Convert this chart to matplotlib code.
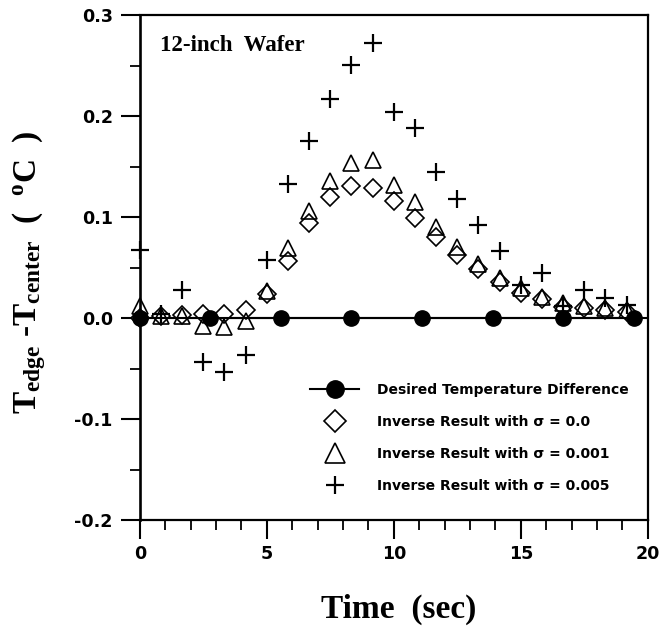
import matplotlib
matplotlib.use('Agg')
import matplotlib.pyplot as plt
import numpy as np

plt.rcParams['figure.figsize'] = [6.63, 6.26]
plt.rcParams['figure.dpi'] = 100
plt.rcParams['savefig.dpi'] = 100
plt.rcParams['mathtext.fontset'] = 'custom'
plt.rcParams['mathtext.rm'] = 'Liberation Serif:bold'
plt.rcParams['mathtext.it'] = 'Liberation Serif:bold'
plt.rcParams['mathtext.bf'] = 'Liberation Serif:bold'

# desired edge-center difference (held at zero)
t_desired = [0.0, 2.78, 5.56, 8.33, 11.11, 13.89, 16.67, 19.44]
dt_desired = [0.0, 0.0, 0.0, 0.0, 0.0, 0.0, 0.0, 0.0]

# inverse results, one value every 5/6 sec
t_inv = [0.0, 0.83, 1.67, 2.5, 3.33, 4.17, 5.0, 5.83, 6.67, 7.5, 8.33, 9.17,
         10.0, 10.83, 11.67, 12.5, 13.33, 14.17, 15.0, 15.83, 16.67, 17.5, 18.33, 19.17]
dt_s0 = [0.0, 0.002, 0.003, 0.004, 0.004, 0.008, 0.024, 0.057, 0.094, 0.120, 0.131, 0.129,
         0.116, 0.099, 0.080, 0.062, 0.049, 0.036, 0.025, 0.019, 0.011, 0.010, 0.008, 0.006]
dt_s001 = [0.012, 0.002, 0.002, -0.008, -0.009, -0.003, 0.027, 0.069, 0.106, 0.136, 0.154, 0.157,
           0.132, 0.115, 0.090, 0.070, 0.054, 0.040, 0.030, 0.021, 0.015, 0.012, 0.010, 0.008]
dt_s005 = [0.067, 0.004, 0.028, -0.043, -0.053, -0.036, 0.058, 0.133, 0.175, 0.217, 0.251, 0.272,
           0.204, 0.188, 0.145, 0.118, 0.092, 0.066, 0.033, 0.045, 0.012, 0.028, 0.020, 0.013]

sans = 'DejaVu Sans'
serif = 'Liberation Serif'

fig = plt.figure()
ax = fig.add_axes([0.211, 0.169, 0.766, 0.807])

ax.axhline(0, color='k', lw=1.5, zorder=1)
h1, = ax.plot(t_inv, dt_s0, ls='none', marker='D', ms=8.7, mfc='white', mec='k', mew=1.2,
              zorder=2, clip_on=False)
h2, = ax.plot(t_inv, dt_s001, ls='none', marker='^', ms=11, mfc='none', mec='k', mew=1.2,
              zorder=3, clip_on=False)
h3, = ax.plot(t_inv, dt_s005, ls='none', marker='+', ms=13, mec='k', mew=1.6,
              zorder=4, clip_on=False)
h0, = ax.plot(t_desired, dt_desired, 'k-', lw=1.5, marker='o', ms=11, zorder=5, clip_on=False)

ax.set_xlim(0, 20)
ax.set_ylim(-0.2, 0.3)
ax.set_xticks([0, 5, 10, 15, 20])
ax.set_xticks(np.arange(0, 21, 1), minor=True)
ax.set_yticks([-0.2, -0.1, 0.0, 0.1, 0.2, 0.3])
ax.set_yticks(np.arange(-0.2, 0.31, 0.05), minor=True)
ax.set_yticklabels(['-0.2', '-0.1', '0.0', '0.1', '0.2', '0.3'])

ax.tick_params(which='major', direction='out', length=13.5, width=1.5, pad=6)
ax.tick_params(which='minor', direction='out', length=7.5, width=1.3)
ax.tick_params(axis='x', which='major', pad=4)
for lab in ax.get_xticklabels() + ax.get_yticklabels():
    lab.set_fontfamily(sans)
    lab.set_fontweight('bold')
    lab.set_fontsize(12.6)

for sp in ax.spines.values():
    sp.set_linewidth(1.6)
ax.spines['left'].set_linewidth(1.9)

ax.set_xlabel('Time  (sec)', fontfamily=serif, fontweight='bold', fontsize=24)
ax.xaxis.set_label_coords(0.51, -0.145)
ax.set_ylabel(r'T$_{edge}$ -T$_{center}$  (  $^{o}$C  )', fontfamily=serif, fontweight='bold',
              fontsize=24)
ax.yaxis.set_label_coords(-0.18, 0.49)

ax.text(0.04, 0.94, '12-inch  Wafer', transform=ax.transAxes, fontfamily=serif,
        fontweight='bold', fontsize=16.5, va='center', ha='left')

leg = ax.legend([h0, h1, h2, h3],
                ['Desired Temperature Difference',
                 'Inverse Result with \u03c3 = 0.0',
                 'Inverse Result with \u03c3 = 0.001',
                 'Inverse Result with \u03c3 = 0.005'],
                loc='upper left', bbox_to_anchor=(0.322, 0.285), frameon=False,
                handlelength=3.5, handletextpad=1.3, labelspacing=1.3, borderpad=0,
                prop={'family': sans, 'weight': 'bold', 'size': 10})
for h, ms in zip(leg.legend_handles, [12.5, 11.5, 15, 13.5]):
    h.set_markersize(ms)

fig.savefig('out.png')
